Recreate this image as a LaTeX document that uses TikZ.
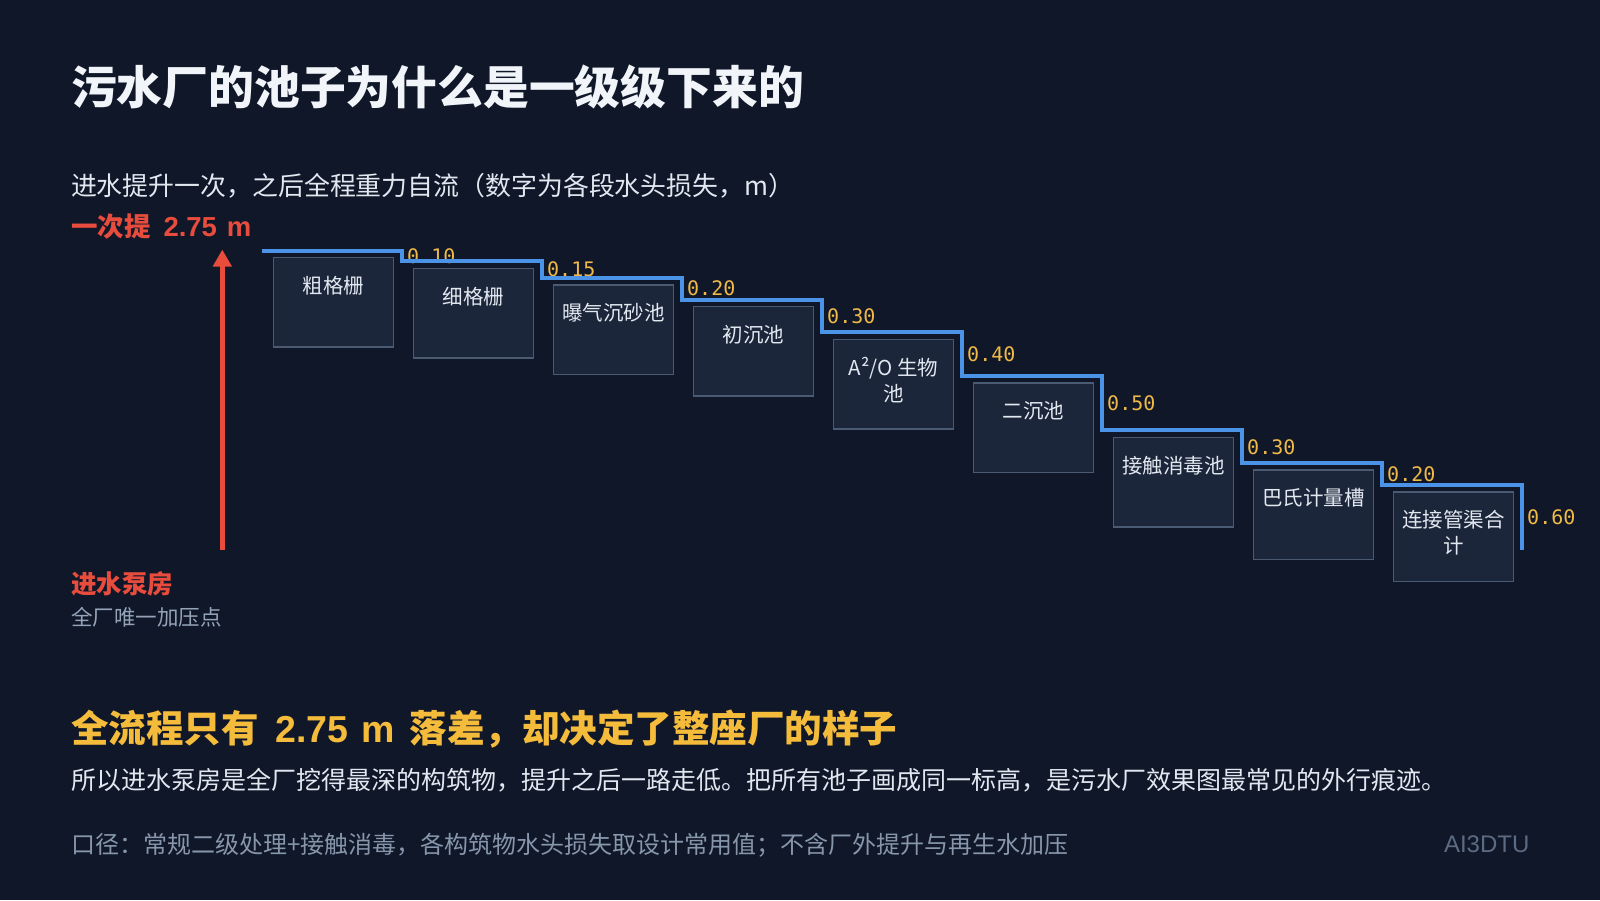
\documentclass[tikz,border=0pt]{standalone}
\usepackage{fontspec}
\setmainfont{Noto Sans CJK SC}
\newfontfamily\monof{DejaVu Sans Mono}
\newfontfamily\arialf{Liberation Sans}
\usetikzlibrary{arrows.meta}
\definecolor{bg}{HTML}{0F1729}
\definecolor{boxfill}{HTML}{1C263A}
\definecolor{boxline}{HTML}{4A5A73}
\definecolor{flowblue}{HTML}{4B93E6}
\definecolor{accred}{HTML}{E74C3C}
\definecolor{accyel}{HTML}{F5BC3C}
\definecolor{numyel}{HTML}{F0B946}
\definecolor{titlec}{HTML}{F1F5F9}
\definecolor{bodyc}{HTML}{E2E8F0}
\definecolor{grayc}{HTML}{94A3B8}
\definecolor{footc}{HTML}{8796AB}
\definecolor{markc}{HTML}{5D6B82}
\tikzset{
  txt/.style={anchor=base west, inner sep=0pt, outer sep=0pt},
  pool/.style={draw=boxline, fill=boxfill, line width=1.6pt, minimum width=120pt, minimum height=89.5pt, anchor=north west, inner sep=0pt},
  poollbl/.style={anchor=base, inner sep=0pt, text=bodyc, font=\fontsize{20.5}{26}\selectfont},
  loss/.style={anchor=base west, inner sep=0pt, text=numyel, font=\monof\fontsize{20}{22}\selectfont},
  flow/.style={draw=flowblue, line width=4pt, line join=miter},
}
\begin{document}
\begin{tikzpicture}[x=1pt,y=-1pt]
\fill[bg] (0,0) rectangle (1600,900);
\useasboundingbox (0,0) rectangle (1600,900);

% texts
\node[txt, text=titlec, font=\fontsize{45.8}{52}\selectfont\bfseries] (title) at (71,104.4) {污水厂的池子为什么是一级级下来的};
\node[txt, text=bodyc, font=\fontsize{25.9}{30}\selectfont] (sub) at (71,195.4) {进水提升一次，之后全程重力自流（数字为各段水头损失，m）};
\node[txt, text=accred, font=\fontsize{26.5}{30}\selectfont\bfseries] (lift) at (71,236.6) {一次提\hspace{13pt}{\arialf\fontsize{27.5}{30}\selectfont 2.75\hspace{10pt}m}};
\node[txt, text=accred, font=\fontsize{25.5}{30}\selectfont\bfseries] (pump) at (71,593.7) {进水泵房};
\node[txt, text=grayc, font=\fontsize{21.5}{26}\selectfont] (pumpnote) at (71,625.7) {全厂唯一加压点};
\node[txt, text=accyel, font=\fontsize{37.5}{42}\selectfont\bfseries] (head) at (71,742.7) {全流程只有\hspace{17pt}{\arialf 2.75\hspace{13pt}m}\hspace{15pt}落差，却决定了整座厂的样子};
\node[txt, text=bodyc, font=\fontsize{25}{30}\selectfont] (body) at (71,789.5) {所以进水泵房是全厂挖得最深的构筑物，提升之后一路走低。把所有池子画成同一标高，是污水厂效果图最常见的外行痕迹。};
\node[txt, text=footc, font=\fontsize{24}{30}\selectfont] (foot) at (71,853) {口径：常规二级处理+接触消毒，各构筑物水头损失取设计常用值；不含厂外提升与再生水加压};
\node[txt, text=markc, font=\arialf\fontsize{24}{28}\selectfont] (mark) at (1444,852.7) {AI3DTU};

% pump arrow
\coordinate (arrS) at (222.3,550);
\coordinate (arrE) at (222.3,249.5);
\draw[accred, line width=4.5pt, -{Triangle[length=17pt,width=18pt]}] (arrS) -- (arrE);

% pools
\node[pool] (b0) at (272.7,256.8) {};
\node[pool] (b1) at (412.7,267.7) {};
\node[pool] (b2) at (552.7,284.05) {};
\node[pool] (b3) at (692.7,305.85) {};
\node[pool] (b4) at (832.7,338.55) {};
\node[pool] (b5) at (972.7,382.15) {};
\node[pool] (b6) at (1112.7,436.65) {};
\node[pool] (b7) at (1252.7,469.35) {};
\node[pool] (b8) at (1392.7,491.15) {};

\node[poollbl] (t0) at ([yshift=-36.6pt]b0.north) {粗格栅};
\node[poollbl] (t1) at ([yshift=-36.6pt]b1.north) {细格栅};
\node[poollbl] (t2) at ([yshift=-36.6pt]b2.north) {曝气沉砂池};
\node[poollbl] (t3) at ([yshift=-36.6pt]b3.north) {初沉池};
\node[poollbl] (t4) at ([yshift=-36.6pt]b4.north) {A²/O 生物};
\node[poollbl] (t4b) at ([yshift=-62.6pt]b4.north) {池};
\node[poollbl] (t5) at ([yshift=-36.6pt]b5.north) {二沉池};
\node[poollbl] (t6) at ([yshift=-36.6pt]b6.north) {接触消毒池};
\node[poollbl] (t7) at ([yshift=-36.6pt]b7.north) {巴氏计量槽};
\node[poollbl] (t8) at ([yshift=-36.6pt]b8.north) {连接管渠合};
\node[poollbl] (t8b) at ([yshift=-62.6pt]b8.north) {计};

% head-loss labels
\node[loss] (h1) at (407,263.2) {0.10};
\node[loss] (h2) at (547,276.9) {0.15};
\node[loss] (h3) at (687,295.9) {0.20};
\node[loss] (h4) at (827,323.2) {0.30};
\node[loss] (h5) at (967,361.3) {0.40};
\node[loss] (h6) at (1107,410.4) {0.50};
\node[loss] (h7) at (1247,454.0) {0.30};
\node[loss] (h8) at (1387,481.2) {0.20};
\node[loss] (h9) at (1527,524.8) {0.60};

% water line
\draw[flow] (262,250.5) -- (402,250.5) -- (402,261.4) -- (542,261.4) -- (542,277.75)
  -- (682,277.75) -- (682,299.55) -- (822,299.55) -- (822,332.25) -- (962,332.25)
  -- (962,375.85) -- (1102,375.85) -- (1102,430.35) -- (1242,430.35) -- (1242,463.05)
  -- (1382,463.05) -- (1382,484.85) -- (1522,484.85) -- (1522,550.25);
\end{tikzpicture}
\end{document}
